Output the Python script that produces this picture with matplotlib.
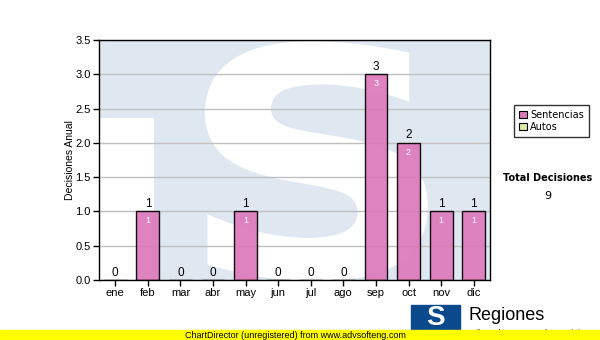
import numpy as np
import matplotlib.pyplot as plt
from matplotlib.patches import Rectangle, Patch, PathPatch
from matplotlib.textpath import TextPath
from matplotlib.font_manager import FontProperties
from matplotlib.transforms import Affine2D

meses = ['ene', 'feb', 'mar', 'abr', 'may', 'jun', 'jul', 'ago', 'sep', 'oct', 'nov', 'dic']
sentencias = [0, 1, 0, 0, 1, 0, 0, 0, 3, 2, 1, 1]
autos = [0, 0, 0, 0, 0, 0, 0, 0, 0, 0, 0, 0]
y_ticks = [0.0, 0.5, 1.0, 1.5, 2.0, 2.5, 3.0, 3.5]

plt.rcParams['font.family'] = ['Liberation Sans', 'DejaVu Sans']

fig = plt.figure(figsize=(6, 3.4), dpi=100)
ax = fig.add_axes([99 / 600, 60 / 340, 391 / 600, 240 / 340])

# marca de agua "TS" de fondo
ax.add_patch(Rectangle((0, 0), 1, 1, transform=ax.transAxes, color='#dfe8f1', zorder=0, lw=0))
ax.add_patch(Rectangle((0, 0), 55 / 391, 162 / 240, transform=ax.transAxes, color='white', zorder=0.1, lw=0))
tp = TextPath((0, 0), 'S', size=1, prop=FontProperties(family='DejaVu Sans', weight='bold'))
bb = tp.get_extents()
tr = (Affine2D().translate(-bb.x0, -bb.y0).scale(0.57 / bb.width, 1.0 / bb.height)
      .translate(0.271, -0.005) + ax.transAxes)
ax.add_patch(PathPatch(tp, transform=tr, color='white', lw=0, zorder=0.2, clip_on=True))

x = np.arange(len(meses))
ax.bar(x, sentencias, width=0.7, color='#dd78bb', alpha=0.92, edgecolor='black', lw=1, zorder=3)
ax.bar(x, autos, width=0.7, bottom=sentencias, color='#d8eca0', edgecolor='black', lw=0, zorder=3)

for xi, v in zip(x, sentencias):
    ax.text(xi, v + 0.02, str(v), ha='center', va='bottom', fontsize=8.5, color='black', zorder=4)
    if v > 0:
        ax.text(xi, v - 0.07, str(v), ha='center', va='top', fontsize=6.5, color='white', zorder=4)

ax.set_xlim(-0.5, 11.5)
ax.set_ylim(0, 3.5)
ax.set_yticks(y_ticks)
ax.set_yticklabels([f'{t:.1f}' for t in y_ticks])
ax.set_xticks(x)
ax.set_xticklabels(meses)
ax.tick_params(axis='both', direction='out', length=4, width=1, labelsize=8, colors='black', pad=2)
ax.yaxis.grid(True, color='#c0c0c0', lw=1, zorder=1)
ax.set_axisbelow(False)
for gl in ax.get_ygridlines():
    gl.set_zorder(1)
for s in ax.spines.values():
    s.set_linewidth(1)
    s.set_zorder(5)
ax.set_ylabel('Decisiones Anual', fontsize=7.5, labelpad=0)

handles = [Patch(facecolor='#dd78bb', edgecolor='black', lw=0.8, label='Sentencias'),
           Patch(facecolor='#d8eca0', edgecolor='black', lw=0.8, label='Autos')]
leg = fig.legend(handles=handles, loc='upper left', bbox_to_anchor=(509 / 600, 1 - 100 / 340),
                 frameon=True, fancybox=False, handlelength=0.8, handleheight=0.8,
                 handletextpad=0.4, labelspacing=0.2, borderpad=0.5, prop={'family': 'DejaVu Sans', 'size': 7})
leg.get_frame().set_edgecolor('black')
leg.get_frame().set_linewidth(1)

fig.text(548 / 600, 1 - 178 / 340, 'Total Decisiones', ha='center', va='center',
         fontsize=7, fontweight='bold', family='DejaVu Sans')
fig.text(548 / 600, 1 - 196 / 340, str(sum(sentencias) + sum(autos)), ha='center', va='center',
         fontsize=8, family='DejaVu Sans')

# logo inferior
fig.patches.append(Rectangle((411 / 600, 10 / 340), 49 / 600, 25 / 340, transform=fig.transFigure,
                             color='#0a4a8c', zorder=1))
fig.text(435 / 600, 1 - 318 / 340, 'S', ha='center', va='center', fontsize=20, fontweight='bold',
         color='white', zorder=2)
fig.text(468 / 600, 1 - 316 / 340, 'Regiones', ha='left', va='center', fontsize=13, color='black')
fig.text(468 / 600, 1 - 333 / 340, 'Tribunal Supremo de Justicia', ha='left', va='center',
         fontsize=6.5, color='black', zorder=1)

# banda amarilla
fig.patches.append(Rectangle((0, 0), 1, 10 / 340, transform=fig.transFigure, color='#ffff00', zorder=5))
fig.text(295 / 600, 5 / 340, 'ChartDirector (unregistered) from www.advsofteng.com', ha='center',
         va='center', fontsize=6.5, color='black', zorder=6)

fig.savefig('out.png', dpi=100)
